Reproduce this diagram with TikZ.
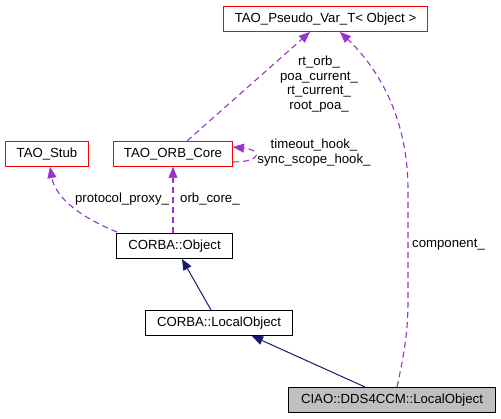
\documentclass[tikz,border=0pt]{standalone}
\usepackage{fontspec}
\setmainfont{Liberation Sans}
\usetikzlibrary{arrows.meta,calc}
\definecolor{boxred}{HTML}{FF0000}
\definecolor{usepurple}{HTML}{9A32CD}
\definecolor{inhnavy}{HTML}{191970}
\definecolor{focusgray}{HTML}{BFBFBF}
\begin{document}
\begin{tikzpicture}[x=1pt,y=-1pt,
  every node/.style={font=\fontsize{13.2}{15}\selectfont, inner sep=0pt},
  cls/.style={draw, line width=1pt, minimum height=25pt, anchor=north west, align=center},
  undoc/.style={cls, draw=boxred},
  doc/.style={cls, draw=black},
  focus/.style={cls, draw=black, fill=focusgray},
  usage/.style={draw=usepurple, line width=1.1pt, dash pattern=on 6pt off 4pt,
     -{Triangle[length=11pt,width=9pt,fill=usepurple,line width=0.5pt]}},
  inh/.style={draw=inhnavy, line width=1pt,
     -{Triangle[length=11pt,width=9pt,fill=inhnavy]}},
  lbl/.style={align=center, font=\fontsize{13.2}{14.8}\selectfont}
]
\useasboundingbox (0,0) rectangle (501,419);

\node[undoc, minimum width=204pt] (pseudo) at (223,6) {TAO\_Pseudo\_Var\_T< Object >};
\node[undoc, minimum width=83pt] (stub) at (5,141) {TAO\_Stub};
\node[undoc, minimum width=119pt] (orb) at (113,141) {TAO\_ORB\_Core};
\node[doc, minimum width=116pt] (obj) at (116,233) {CORBA::Object};
\node[doc, minimum width=147pt] (lobj) at (145,310) {CORBA::LocalObject};
\node[focus, minimum width=207pt] (dds) at (288,387) {CIAO::DDS4CCM::LocalObject};

% inheritance
\draw[inh] ([xshift=66pt]lobj.north west) -- ([xshift=66pt]obj.south west);
\draw[inh] ([xshift=77pt]dds.north west) -- ([xshift=107pt]lobj.south west);

% usage
\draw[usage] ([xshift=57pt]obj.north west) -- ([xshift=60pt]orb.south west);
\draw[usage] ([xshift=1pt,yshift=1pt]obj.north west) .. controls (75,215) and (55,195) .. ([xshift=45pt]stub.south west);
\draw[usage] ([xshift=74pt]orb.north west) -- ([xshift=87pt]pseudo.south west);
\draw[usage] ([yshift=5pt]orb.south east) .. controls (262,162) and (262,150) .. ([yshift=-6pt]orb.north east);
\draw[usage] ([xshift=109pt]dds.north west) .. controls (405,350) and (408,330) .. (408,300)
   -- (408,190) .. controls (408,120) and (380,70) .. ([xshift=117pt]pseudo.south west);

% labels
\node[lbl] (l1) at (319,84) {rt\_orb\_\\poa\_current\_\\rt\_current\_\\root\_poa\_};
\node[lbl] (l2) at (314,152.5) {timeout\_hook\_\\sync\_scope\_hook\_};
\node[lbl] (l3) at (122,199) {protocol\_proxy\_};
\node[lbl, anchor=west] (l4) at (180,199) {orb\_core\_};
\node[lbl, anchor=west] (l5) at (412,245) {component\_};
\end{tikzpicture}
\end{document}
